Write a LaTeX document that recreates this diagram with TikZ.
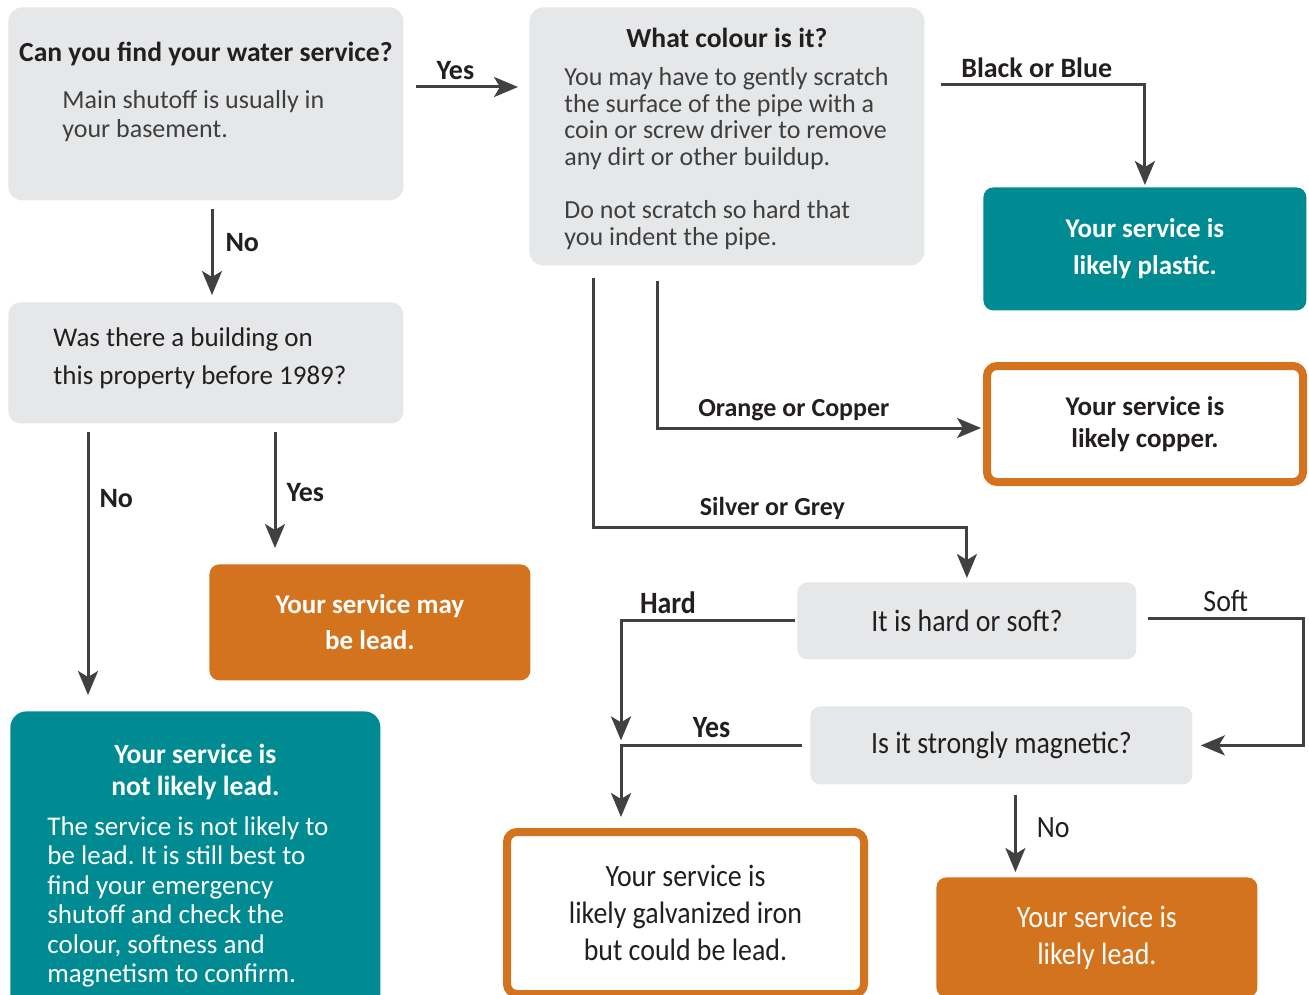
\documentclass[tikz,border=0pt]{standalone}
\usepackage{fontspec}
\setmainfont{Carlito}
\newfontfamily\condfont[FakeStretch=0.9]{Carlito}
\usetikzlibrary{arrows.meta, calc}

\definecolor{qgrey}{HTML}{E6E7E8}
\definecolor{leadteal}{HTML}{008B92}
\definecolor{leadorange}{HTML}{D4731D}
\definecolor{linegrey}{HTML}{414042}
\definecolor{inkdark}{HTML}{231F20}
\definecolor{bodygrey}{HTML}{3F3F40}

\newcommand{\qhead}{\fontsize{13.8}{16}\selectfont\bfseries}
\frenchspacing

\begin{document}
\begin{tikzpicture}[
        x=0.5pt, y=-0.5pt,
        qbox/.style={fill=qgrey, rounded corners=7pt, anchor=north west, inner sep=0pt, text=inkdark},
        tealbox/.style={fill=leadteal, rounded corners=5pt, anchor=north west, inner sep=0pt, align=center, text=white, font=\fontsize{13.5}{18.5}\selectfont\bfseries},
        orangebox/.style={fill=leadorange, rounded corners=5pt, anchor=north west, inner sep=0pt, align=center, text=white, font=\fontsize{13.5}{18.5}\selectfont\bfseries},
        framebox/.style={draw=leadorange, line width=4pt, fill=white, rounded corners=5pt, anchor=north west, inner sep=0pt, align=center, text=inkdark},
        arrow/.style={-{Stealth[length=12pt, width=10pt, inset=3pt]}, line width=1.5pt, draw=linegrey},
        lbl/.style={font=\fontsize{14}{16}\selectfont\bfseries, text=inkdark, inner sep=2pt},
        clbl/.style={font=\condfont\fontsize{15.5}{18}\selectfont, text=inkdark, inner sep=2pt}
    ]

    \useasboundingbox (0,0) rectangle (1309,994);
    \clip (0,0) rectangle (1309,994);

    \node (find) [qbox] at (8,7) {\parbox[c][96.5pt][t]{197.5pt}{\centering\rule{0pt}{27pt}\qhead Can you find your water service?\par
        \vspace{9pt}\raggedright\leftskip=27pt\fontsize{13}{14.5}\selectfont\mdseries\leavevmode\color{bodygrey}Main shutoff is usually in\\your basement.\par}};
    \node (colour) [qbox] at (529,7) {\parbox[c][129pt][t]{197.5pt}{\centering\rule{0pt}{20pt}\qhead What colour is it?\par
        \vspace{5.65pt}\raggedright\leftskip=17.5pt\fontsize{13}{13.35}\selectfont\mdseries\leavevmode\color{bodygrey}You may have to gently scratch\\the surface of the pipe with a\\coin or screw driver to remove\\any dirt or other buildup.\par
        \vspace{13.35pt}Do not scratch so hard that\\you indent the pipe.\par}};
    \node (before) [qbox, rounded corners=6pt] at (8,302) {\parbox[c][60.5pt][t]{197.5pt}{\raggedright\leftskip=22.5pt\fontsize{13.5}{19}\selectfont\rule{0pt}{22pt}Was there a building on\\this property before 1989?\par}};
    \node (plastic) [tealbox, minimum width=161.5pt, minimum height=61.5pt] at (983,187) {Your service is\\likely plastic.};
    \node (copper) [framebox, minimum width=158pt, minimum height=58pt, font=\fontsize{13.5}{16}\selectfont\bfseries] at (983,362) {Your service is\\likely copper.};
    \node (maylead) [orangebox, minimum width=160.5pt, minimum height=58pt, font=\fontsize{13.5}{18}\selectfont\bfseries] at (209,564) {Your service may\\be lead.};
    \node (notlead) [tealbox, rounded corners=8pt] at (10,711) {\parbox[c][150pt][t]{185pt}{\centering\rule{0pt}{26pt}\fontsize{13.8}{16}\selectfont\bfseries Your service is\\not likely lead.\par
        \vspace{5.3pt}\raggedright\leftskip=18.5pt\fontsize{13.5}{14.7}\selectfont\mdseries The service is not likely to\\be lead. It is still best to\\find your emergency\\shutoff and check the\\colour, softness and\\magnetism to confirm.\par}};
    \node (hardsoft) [qbox, rounded corners=5pt, minimum width=169.5pt, minimum height=38.5pt, font=\condfont\fontsize{15.5}{18}\selectfont] at (797,582) {It is hard or soft?};
    \node (magnetic) [qbox, rounded corners=5pt, minimum width=191pt, minimum height=39pt, font=\condfont\fontsize{15.5}{18}\selectfont] at (810,706) {Is it strongly magnetic?};
    \node (galv) [framebox, minimum width=178.5pt, minimum height=81pt, font=\condfont\fontsize{15.5}{18.5}\selectfont] at (503,828) {Your service is\\likely galvanized iron\\but could be lead.};
    \node (likely) [orangebox, minimum width=160.5pt, minimum height=60pt, font=\condfont\fontsize{15.5}{18.5}\selectfont] at (936,877) {Your service is\\likely lead.};

    \coordinate (jn) at ($(magnetic.west)+(-189,0)$);

    \draw [arrow, shorten >=5.5pt] ($(find.north east)+(12,80)$) coordinate (y1) -- node [lbl, above=1pt, pos=0.35] {Yes} (y1 -| colour.west);
    \draw [arrow, shorten >=3.5pt] ($(find.south west)+(204,8)$) coordinate (n1) -- node [lbl, right=4pt, pos=0.36] {No} (n1 |- before.north);
    \draw [arrow, shorten >=1pt] ($(colour.north east)+(16,78)$) -| node [lbl, above=1pt, pos=0.235] {Black or Blue} (plastic.north);
    \draw [arrow, shorten >=1pt] ($(colour.south west)+(128,15)$) |- node [lbl, above=1pt, pos=0.71, font=\fontsize{13}{15}\selectfont\bfseries] {Orange or Copper} ($(copper.west)+(0,4)$);
    \draw [arrow, shorten >=2pt] ($(colour.south west)+(64,12)$) |- node [lbl, above=1pt, pos=0.74, font=\fontsize{13}{15}\selectfont\bfseries] {Silver or Grey} ($(hardsoft.north)+(0,-55)$) -- (hardsoft.north);
    \draw [arrow, shorten >=8pt] ($(before.south west)+(80,8)$) coordinate (n3) -- node [lbl, right=3pt, pos=0.24] {No} (n3 |- notlead.north);
    \draw [arrow, shorten >=8pt] ($(before.south west)+(267,8)$) coordinate (y3) -- node [lbl, right=3pt, pos=0.46] {Yes} (y3 |- maylead.north);
    \draw [arrow, shorten >=2.5pt] ($(hardsoft.west)+(-2,0)$) -| node [clbl, above=1pt, pos=0.365, font=\condfont\fontsize{15.5}{18}\selectfont\bfseries] {Hard} (jn);
    \draw [arrow, shorten >=4pt] ($(hardsoft.east)+(11,-2)$) -- node [clbl, above=1pt] {Soft} ++(156,0) |- (magnetic.east);
    \draw [arrow, shorten >=5.5pt] ($(magnetic.west)+(-8,0)$) -- node [clbl, above=1pt, font=\condfont\fontsize{15.5}{18}\selectfont\bfseries] {Yes} (jn) -- (jn |- galv.north);
    \draw [arrow, shorten >=2.5pt] ($(magnetic.south)+(14,10)$) coordinate (n2) -- node [clbl, right=8pt, pos=0.4] {No} (n2 |- likely.north);

\end{tikzpicture}
\end{document}
